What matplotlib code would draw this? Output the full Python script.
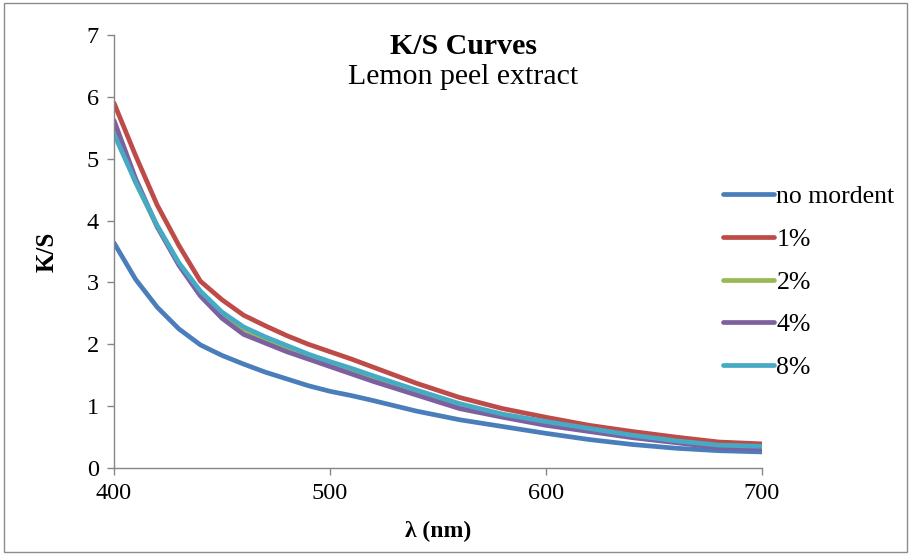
import matplotlib
matplotlib.use("Agg")
import matplotlib.pyplot as plt
from matplotlib.patches import Rectangle

wavelength = [400, 410, 420, 430, 440, 450, 460, 470, 480, 490, 500, 510, 520, 540, 560, 580, 600, 620, 640, 660, 680, 700]
no_mordent = [3.64, 3.05, 2.60, 2.25, 1.99, 1.82, 1.68, 1.55, 1.44, 1.33, 1.24, 1.17, 1.09, 0.92, 0.78, 0.67, 0.56, 0.46, 0.38, 0.32, 0.28, 0.26]
m1 = [5.90, 5.05, 4.25, 3.60, 3.02, 2.72, 2.47, 2.30, 2.14, 2.00, 1.88, 1.76, 1.63, 1.37, 1.14, 0.96, 0.82, 0.69, 0.59, 0.50, 0.42, 0.39]
m2 = [5.48, 4.62, 3.90, 3.30, 2.83, 2.48, 2.24, 2.08, 1.95, 1.82, 1.69, 1.58, 1.46, 1.23, 1.01, 0.85, 0.73, 0.62, 0.52, 0.43, 0.36, 0.34]
m4 = [5.62, 4.68, 3.90, 3.28, 2.78, 2.42, 2.16, 2.02, 1.88, 1.76, 1.64, 1.52, 1.40, 1.18, 0.96, 0.82, 0.69, 0.59, 0.49, 0.41, 0.33, 0.31]
m8 = [5.40, 4.62, 3.92, 3.32, 2.86, 2.52, 2.28, 2.12, 1.98, 1.84, 1.72, 1.61, 1.49, 1.26, 1.04, 0.87, 0.75, 0.64, 0.53, 0.44, 0.37, 0.35]
series_labels = ["no mordent", "1%", "2%", "4%", "8%"]
colors = ["#4A7EBB", "#BE4B48", "#98B954", "#7D60A0", "#46AAC5"]
x_ticks = [400, 500, 600, 700]
y_ticks = [0, 1, 2, 3, 4, 5, 6, 7]

plt.rcParams['font.family'] = ['Liberation Serif', 'DejaVu Serif']

fig = plt.figure(figsize=(9.11, 5.55), dpi=100)
ax = fig.add_axes([114/911, 1-468/555, (762-114)/911, (468-35)/555])

for ys, lab, c in zip([no_mordent, m1, m2, m4, m8], series_labels, colors):
    ax.plot(wavelength, ys, color=c, lw=3.4, label=lab, solid_capstyle='round', solid_joinstyle='round')

ax.set_xlim(400, 700)
ax.set_ylim(0, 7)
ax.set_xticks(x_ticks)
ax.set_yticks(y_ticks)
for s in ['top', 'right']:
    ax.spines[s].set_visible(False)
for s in ['left', 'bottom']:
    ax.spines[s].set_color('#868686')
    ax.spines[s].set_linewidth(1.0)
ax.tick_params(axis='both', colors='#868686', labelcolor='black', labelsize=17.5, length=5, width=1.0, direction='out')
ax.tick_params(axis='y', pad=6)
ax.tick_params(axis='x', pad=6)

ax.set_ylabel("K/S", fontsize=18, fontweight='bold', labelpad=20)
ax.set_xlabel("λ (nm)", fontsize=17, fontweight='bold', labelpad=12)

fig.text(463/911, 1-46/555, "K/S Curves", ha='center', va='center', fontsize=21.5, fontweight='bold')
fig.text(463/911, 1-77/555, "Lemon peel extract", ha='center', va='center', fontsize=21.5)

fig.legend(loc='upper left', bbox_to_anchor=(723/911, 1-185/555), frameon=False,
           fontsize=18.5, handlelength=2.0, handletextpad=0.08, labelspacing=0.77,
           borderpad=0, borderaxespad=0)

fig.patches.append(Rectangle((0.004, 0.006), 0.992, 0.988, transform=fig.transFigure,
                             fill=False, edgecolor='#8c8c8c', lw=1.0))

fig.savefig("out.png", dpi=100)
